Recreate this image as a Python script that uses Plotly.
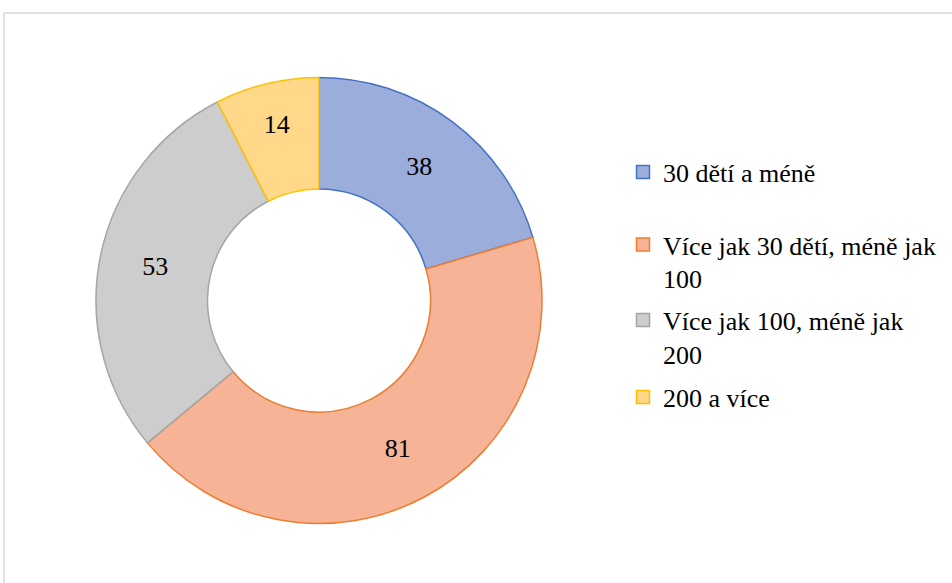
import plotly.graph_objects as go

labels = [
    "30 dětí a méně",
    "Více jak 30 dětí, méně jak<br>100",
    "Více jak 100, méně jak<br>200",
    "200 a více",
]
values = [38, 81, 53, 14]

fills = ["#9AADDB", "#F6B396", "#CDCDCD", "#FFD88A"]
edges = ["#4472C4", "#ED7D31", "#A5A5A5", "#FFC000"]

SERIF = "Liberation Serif, Times New Roman, serif"
FS = 26
W, H = 952, 583
cx, cy, r = 319, 300.5, 223

# top of each legend entry, in page pixels (Excel spaces them unevenly)
legend_tops = [148.5, 221, 296.5, 373.5]

fig = go.Figure()
fig.add_trace(go.Pie(
    labels=labels,
    values=values,
    hole=0.5,
    sort=False,
    direction="clockwise",
    rotation=0,
    marker=dict(colors=fills, line=dict(color=edges, width=1.5)),
    textinfo="value",
    textposition="inside",
    insidetextorientation="horizontal",
    textfont=dict(family=SERIF, size=FS, color="#000000"),
    domain=dict(x=[(cx - r) / W, (cx + r) / W], y=[1 - (cy + r) / H, 1 - (cy - r) / H]),
    hoverinfo="label+value",
    showlegend=False,
))

legend_cfg = {}
for i, (lab, fc, ec) in enumerate(zip(labels, fills, edges)):
    key = "legend" if i == 0 else f"legend{i + 1}"
    fig.add_trace(go.Scatter(
        x=[None], y=[None], mode="markers", name=lab, legend=key,
        marker=dict(symbol="square", size=13, color=fc, line=dict(color=ec, width=1.5)),
    ))
    legend_cfg[key] = dict(
        x=623 / W, y=1 - legend_tops[i] / H,
        xanchor="left", yanchor="top",
        font=dict(family=SERIF, size=FS, color="#000000"),
        itemwidth=30,
        valign="top",
        bgcolor="rgba(0,0,0,0)",
    )

fig.update_layout(
    width=W,
    height=H,
    margin=dict(l=0, r=0, t=0, b=0),
    paper_bgcolor="#FFFFFF",
    plot_bgcolor="rgba(0,0,0,0)",
    xaxis=dict(visible=False),
    yaxis=dict(visible=False),
    font=dict(family=SERIF, size=FS, color="#000000"),
    shapes=[dict(
        type="rect", xref="paper", yref="paper",
        x0=4 / W, x1=1.01, y0=-0.01, y1=1 - 13 / H,
        line=dict(color="#D9D9D9", width=1.5),
    )],
    **legend_cfg,
)

post = """
document.body.style.margin = '0';
var gd = document.getElementById('{plot_id}');
document.fonts.ready.then(function () { Plotly.redraw(gd); });
"""

fig.write_html("out.html", config={"displayModeBar": False}, post_script=post)
